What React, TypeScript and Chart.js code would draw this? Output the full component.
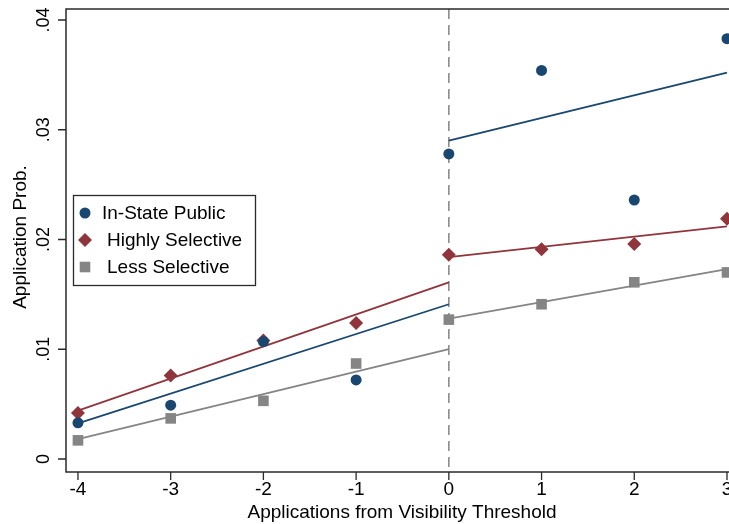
import React, { useEffect, useRef } from "react";
import { Chart, registerables } from "chart.js";

Chart.register(...registerables);

// ---- data ----
const xValues = [-4, -3, -2, -1, 0, 1, 2, 3];
const inStatePublic = [0.0033, 0.0049, 0.0107, 0.0072, 0.0278, 0.0354, 0.0236, 0.0383];
const highlySelective = [0.0042, 0.0076, 0.0108, 0.0124, 0.0186, 0.0191, 0.0196, 0.0219];
const lessSelective = [0.0017, 0.0037, 0.0053, 0.0087, 0.0127, 0.0141, 0.0161, 0.017];

const fitLeftX = [-4, 0];
const fitRightX = [0, 3];
const inStateFitLeft = [0.00325, 0.0141];
const inStateFitRight = [0.029, 0.0352];
const highlyFitLeft = [0.0044, 0.0161];
const highlyFitRight = [0.0184, 0.0212];
const lessFitLeft = [0.0018, 0.01];
const lessFitRight = [0.0128, 0.0173];

const xTicks = [-4, -3, -2, -1, 0, 1, 2, 3];
const xTickLabels = ["-4", "-3", "-2", "-1", "0", "1", "2", "3"];
const yTicks = [0, 0.01, 0.02, 0.03, 0.04];
const yTickLabels = ["0", ".01", ".02", ".03", ".04"];

const seriesNames = ["In-State Public", "Highly Selective", "Less Selective"];
const xTitle = "Applications from Visibility Threshold";
const yTitle = "Application Prob.";

const BLUE = "#1a476f";
const RED = "#90353b";
const GRAY = "#858585";
const FONT = '"Liberation Sans", Arial, sans-serif';

const pts = (xs: number[], ys: number[]) => xs.map((x, i) => ({ x, y: ys[i] }));

function drawMarker(ctx: CanvasRenderingContext2D, kind: string, x: number, y: number, color: string) {
  ctx.fillStyle = color;
  ctx.beginPath();
  if (kind === "circle") {
    ctx.arc(x, y, 5.5, 0, Math.PI * 2);
  } else if (kind === "diamond") {
    const r = 7;
    ctx.moveTo(x, y - r);
    ctx.lineTo(x + r, y);
    ctx.lineTo(x, y + r);
    ctx.lineTo(x - r, y);
    ctx.closePath();
  } else {
    const s = 5.3;
    ctx.rect(x - s, y - s, 2 * s, 2 * s);
  }
  ctx.fill();
}

const stataPlugin = {
  id: "stataDecor",
  beforeDatasetsDraw(chart: any) {
    const { ctx, chartArea, scales } = chart;
    const x0 = scales.x.getPixelForValue(0);
    ctx.save();
    ctx.strokeStyle = "#8c8c8c";
    ctx.lineWidth = 1.6;
    ctx.setLineDash([10, 6]);
    ctx.beginPath();
    ctx.moveTo(x0, chartArea.top);
    ctx.lineTo(x0, chartArea.bottom);
    ctx.stroke();
    ctx.restore();
  },
  afterDraw(chart: any) {
    const { ctx, chartArea, scales } = chart;
    const xs = scales.x;
    const ys = scales.y;
    const { left, top, bottom } = chartArea;
    const right = chart.width + 5;
    ctx.save();
    // frame
    ctx.strokeStyle = "#2a2a2a";
    ctx.lineWidth = 1.5;
    ctx.setLineDash([]);
    ctx.beginPath();
    ctx.moveTo(right, top);
    ctx.lineTo(left, top);
    ctx.lineTo(left, bottom);
    ctx.lineTo(right, bottom);
    ctx.stroke();
    // ticks
    ctx.lineWidth = 1.3;
    ctx.beginPath();
    xTicks.forEach((v) => {
      const px = xs.getPixelForValue(v);
      ctx.moveTo(px, bottom);
      ctx.lineTo(px, bottom + 8);
    });
    yTicks.forEach((v) => {
      const py = ys.getPixelForValue(v);
      ctx.moveTo(left, py);
      ctx.lineTo(left - 8, py);
    });
    ctx.stroke();
    // tick labels
    ctx.fillStyle = "#000";
    ctx.font = `19px ${FONT}`;
    ctx.textAlign = "center";
    ctx.textBaseline = "middle";
    xTicks.forEach((v, i) => {
      ctx.fillText(xTickLabels[i], xs.getPixelForValue(v), 490);
    });
    ctx.font = `18px ${FONT}`;
    yTicks.forEach((v, i) => {
      ctx.save();
      ctx.translate(44, ys.getPixelForValue(v));
      ctx.rotate(-Math.PI / 2);
      ctx.fillText(yTickLabels[i], 0, 0);
      ctx.restore();
    });
    // titles
    ctx.font = `19px ${FONT}`;
    ctx.fillText(xTitle, 402, 513);
    ctx.save();
    ctx.translate(21, 237);
    ctx.rotate(-Math.PI / 2);
    ctx.fillText(yTitle, 0, 0);
    ctx.restore();
    // legend
    ctx.fillStyle = "#fff";
    ctx.fillRect(73, 195, 182, 90);
    ctx.strokeStyle = "#2a2a2a";
    ctx.lineWidth = 1.3;
    ctx.strokeRect(73.5, 195.5, 182, 90);
    const rows = [213, 240, 267];
    const kinds = ["circle", "diamond", "square"];
    const colors = [BLUE, RED, GRAY];
    const textX = [102, 107, 107];
    rows.forEach((ry, i) => {
      drawMarker(ctx, kinds[i], 85, ry, colors[i]);
      ctx.fillStyle = "#000";
      ctx.font = `19px ${FONT}`;
      ctx.textAlign = "left";
      ctx.textBaseline = "middle";
      ctx.fillText(seriesNames[i], textX[i], ry + 1);
    });
    ctx.restore();
  },
};

export default function App() {
  const ref = useRef<HTMLCanvasElement | null>(null);
  useEffect(() => {
    if (!ref.current) return;
    const lineDs = (data: any, color: string) => ({
      data,
      showLine: true,
      borderColor: color,
      borderWidth: 1.8,
      pointRadius: 0,
      fill: false,
    });
    const chart = new Chart(ref.current, {
      type: "scatter",
      data: {
        datasets: [
          {
            label: seriesNames[0],
            data: pts(xValues, inStatePublic),
            pointStyle: "circle",
            pointRadius: 5.5,
            backgroundColor: BLUE,
            borderColor: BLUE,
            borderWidth: 0,
          },
          {
            label: seriesNames[1],
            data: pts(xValues, highlySelective),
            pointStyle: "rectRot",
            pointRadius: 7,
            backgroundColor: RED,
            borderColor: RED,
            borderWidth: 0,
          },
          {
            label: seriesNames[2],
            data: pts(xValues, lessSelective),
            pointStyle: "rect",
            pointRadius: 7.5,
            backgroundColor: GRAY,
            borderColor: GRAY,
            borderWidth: 0,
          },
          lineDs(pts(fitLeftX, inStateFitLeft), BLUE),
          lineDs(pts(fitRightX, inStateFitRight), BLUE),
          lineDs(pts(fitLeftX, highlyFitLeft), RED),
          lineDs(pts(fitRightX, highlyFitRight), RED),
          lineDs(pts(fitLeftX, lessFitLeft), GRAY),
          lineDs(pts(fitRightX, lessFitRight), GRAY),
        ] as any,
      },
      options: {
        animation: false,
        responsive: false,
        devicePixelRatio: 1,
        layout: { autoPadding: false, padding: { left: 66, top: 9, right: 0, bottom: 52 } },
        scales: {
          x: { type: "linear", display: false, min: -4.129, max: 3.0216 },
          y: { type: "linear", display: false, min: -0.001185, max: 0.041002 },
        },
        plugins: { legend: { display: false }, tooltip: { enabled: false } },
      },
      plugins: [stataPlugin],
    });
    return () => chart.destroy();
  }, []);
  return (
    <div
      style={{
        position: "fixed",
        left: 0,
        top: 0,
        width: 729,
        height: 524,
        overflow: "hidden",
        background: "#fff",
      }}
    >
      <canvas ref={ref} width={729} height={524} style={{ width: 729, height: 524, display: "block" }} />
    </div>
  );
}
